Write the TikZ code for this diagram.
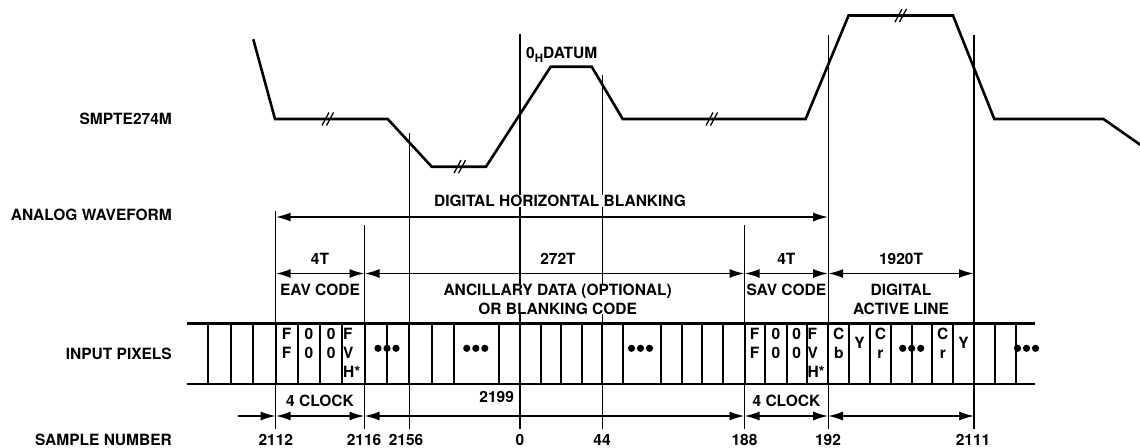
\documentclass[tikz,border=0pt]{standalone}
\usepackage{fontspec}
\setmainfont{TeX Gyre Heros}
\usetikzlibrary{arrows.meta}
\begin{document}
\begin{tikzpicture}[x=1pt,y=-1pt,
  txt/.style={font=\fontsize{15.5}{18.5}\selectfont\bfseries, inner sep=0pt, text height=11.2pt, text depth=0pt},
  mtxt/.style={font=\fontsize{15.5}{18.5}\selectfont\bfseries, inner sep=0pt, align=center},
  ctxt/.style={font=\fontsize{15.5}{19}\selectfont\bfseries, inner sep=0pt, align=center, anchor=north},
  ltxt/.style={font=\fontsize{15.5}{19}\selectfont\bfseries, inner sep=0pt, align=left, anchor=north west},
  wave/.style={line width=2.6pt},
  tall/.style={line width=1.1pt},
  cell/.style={line width=2pt},
  rail/.style={line width=2.6pt},
  dim/.style={line width=1.8pt, {Latex[length=15pt,width=9pt]}-{Latex[length=15pt,width=9pt]}},
  rdim/.style={line width=1.8pt, -{Latex[length=15pt,width=9pt]}},
  brk/.pic={\draw[line width=1.3pt] (-6,6.5)--(1,-6.5) (-1.5,6.5)--(5.5,-6.5);},
  dots/.pic={\foreach \d in {-9,0,9} \fill (\d,0) circle (3.6pt);},
]
\useasboundingbox (0,0) rectangle (1140,447);

% analog waveform
\draw[wave] (253.3,39.3) -- (275,119) -- (387.7,119) -- (431.7,166.7) -- (486,166.7)
  -- (550.7,66.7) -- (591.7,66.7) -- (622.7,119) -- (805.6,119) -- (848.6,15.5)
  -- (953,15.5) -- (994.3,119) -- (1103.4,119) -- (1145,148.1);
\pic at (328,119) {brk};
\pic at (460,166.7) {brk};
\pic at (712,119) {brk};
\pic at (901,15.5) {brk};

% tall reference lines
\draw[tall] (275.7,211) -- (275.7,429);
\draw[tall] (364.5,225) -- (364.5,429);
\draw[tall] (409.3,133) -- (409.3,429);
\draw[tall] (520,34) -- (520,429);
\draw[tall] (602.3,75) -- (602.3,429);
\draw[tall] (744.5,225) -- (744.5,429);
\draw[tall] (828.2,35) -- (828.2,429);
\draw[tall] (974,35) -- (974,429);

% pixel row
\draw[rail] (186.7,323.3) -- (1035,323.3);
\draw[rail] (186.7,384) -- (1035,384);
\foreach \x in {208.3,230.7,253,275.7,297.7,320,342.3,364.5,386.7,409.3,431.7,454,
  499.3,520,540.7,561,581.7,602.3,622.7,661,681.7,702.3,723.3,744.5,765,786.7,806.7,
  828.2,849.3,870,891,911.7,932.3,953.3,974,995,1015.7}
  \draw[cell] (\x,323.3) -- (\x,384);
\foreach \c in {387,475.8,640.5,911.7,1026.5} \pic at (\c,348.3) {dots};

% cell contents
\node[ctxt] (e1) at (286.7,328.4) {F\\F};
\node[ctxt] (e2) at (309,328.4) {0\\0};
\node[ctxt] (e3) at (331.2,328.4) {0\\0};
\node[ltxt] (e4) at (342.9,328.4) {F\\V\\H*};
\node[ctxt] (s1) at (754.7,328.4) {F\\F};
\node[ctxt] (s2) at (775.8,328.4) {0\\0};
\node[ctxt] (s3) at (796.7,328.4) {0\\0};
\node[ltxt] (s4) at (807.3,328.4) {F\\V\\H*};
\node[ctxt] (p1) at (838.8,327.5) {C\\b};
\node[txt] (p2) at (859.6,343.3) {Y};
\node[ctxt] (p3) at (880.5,327.5) {C\\r};
\node[ctxt] (p4) at (942.8,327.5) {C\\r};
\node[txt] (p5) at (963.6,343.3) {Y};

% left labels
\node[txt, anchor=east] (lsmpte) at (172,119) {SMPTE274M};
\node[txt, anchor=east] (lanalog) at (172,215) {ANALOG WAVEFORM};
\node[txt, anchor=east] (lpix) at (172,354) {INPUT PIXELS};
\node[txt, anchor=east] (lsamp) at (172,440) {SAMPLE NUMBER};

% upper labels
\node[txt, anchor=west] (datum) at (526,53) {0\raisebox{-3.5pt}{\fontsize{11.5}{12}\selectfont H}DATUM};
\node[txt, fill=white, inner xsep=2pt] (dhb) at (560,201) {DIGITAL HORIZONTAL BLANKING};
\node[txt] (t4a) at (320,259) {4T};
\node[txt] (eav) at (320,290) {EAV CODE};
\node[txt] (t272) at (558,259) {272T};
\node[mtxt, fill=white, inner xsep=2pt] (anc) at (557.6,299.3) {ANCILLARY DATA (OPTIONAL)\\OR BLANKING CODE};
\node[txt] (t4b) at (786.4,259) {4T};
\node[txt] (sav) at (786.4,290) {SAV CODE};
\node[txt] (t1920) at (901,259) {1920T};
\node[mtxt] (dal) at (901,299.3) {DIGITAL\\ACTIVE LINE};

% lower labels
\node[txt] (c1) at (320,401) {4 CLOCK};
\node[txt] (c2) at (786.4,401) {4 CLOCK};
\node[txt] (n2199) at (496.7,396.7) {2199};
\node[txt] (n2112) at (275.8,440) {2112};
\node[txt] (n2116) at (364,440) {2116};
\node[txt] (n2156) at (406,440) {2156};
\node[txt] (n0) at (520,440) {0};
\node[txt] (n44) at (602,440) {44};
\node[txt] (n188) at (744.5,440) {188};
\node[txt] (n192) at (828,440) {192};
\node[txt] (n2111) at (973,440) {2111};

% dimension coordinates
\foreach \n/\x in {a/275.7,b/364.5,c/744.5,d/828.2,e/974} {
  \coordinate (\n-dhb) at (\x,217);
  \coordinate (\n-code) at (\x,273.5);
  \coordinate (\n-clk) at (\x,416);
}
\coordinate (start-clk) at (238,416);

\draw[dim] (a-dhb) -- (d-dhb);
\draw[dim] (a-code) -- (b-code);
\draw[dim] (b-code) -- (c-code);
\draw[dim] (c-code) -- (d-code);
\draw[dim] (d-code) -- (e-code);
\draw[rdim] (start-clk) -- (a-clk);
\draw[dim] (a-clk) -- (b-clk);
\draw[dim] (b-clk) -- (c-clk);
\draw[dim] (c-clk) -- (d-clk);
\draw[dim, line width=1.2pt] (d-clk) -- (e-clk);
\end{tikzpicture}
\end{document}
